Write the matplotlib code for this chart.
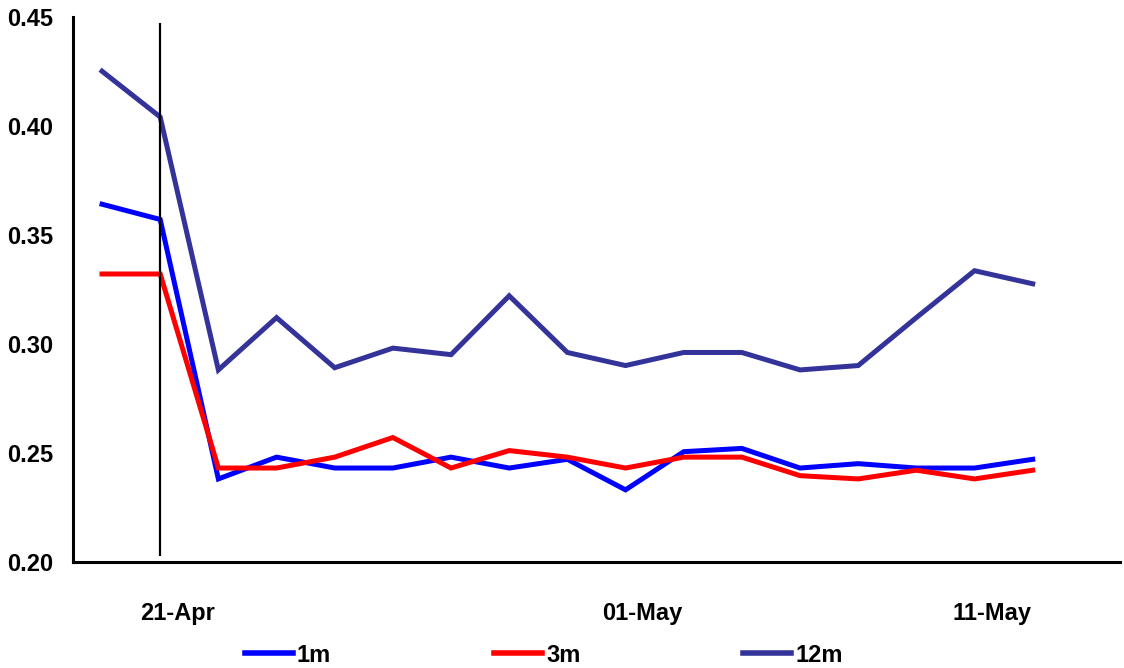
import matplotlib
matplotlib.use('Agg')
import matplotlib.pyplot as plt
import matplotlib.transforms as mtransforms

plt.rcParams['font.family'] = ['Liberation Sans', 'DejaVu Sans']

dates = ['20-Apr', '21-Apr', '22-Apr', '23-Apr', '24-Apr', '27-Apr', '28-Apr', '29-Apr', '30-Apr',
         '01-May', '04-May', '05-May', '06-May', '07-May', '08-May', '11-May', '12-May']
m1 = [0.364, 0.357, 0.238, 0.248, 0.243, 0.243, 0.248, 0.243, 0.247, 0.233, 0.2505, 0.252,
      0.243, 0.245, 0.243, 0.243, 0.247]
m3 = [0.332, 0.332, 0.243, 0.243, 0.248, 0.257, 0.243, 0.251, 0.248, 0.243, 0.248, 0.248,
      0.2395, 0.238, 0.242, 0.238, 0.242]
m12 = [0.425, 0.404, 0.288, 0.312, 0.289, 0.298, 0.295, 0.322, 0.296, 0.290, 0.296, 0.296,
       0.288, 0.290, 0.312, 0.3335, 0.3275]
shown_dates = ['21-Apr', '01-May', '11-May']
marker_date = '21-Apr'

fig = plt.figure(figsize=(11.24, 6.68), dpi=100)
ax = fig.add_axes([0.0649, 0.159, 0.9315, 0.816])

x = list(range(len(dates)))
ax.plot(x, m1, color='#0000FF', lw=3.6, label='1m', solid_joinstyle='miter')
ax.plot(x, m3, color='#FF0000', lw=3.6, label='3m', solid_joinstyle='miter')
ax.plot(x, m12, color='#333399', lw=3.6, label='12m', solid_joinstyle='miter')

# vertical marker line
ax.vlines(dates.index(marker_date), 0.2026, 0.447, color='black', lw=1.6)

ax.set_xlim(-0.5, 17.5)
ax.set_ylim(0.20, 0.45)
ax.set_yticks([0.20, 0.25, 0.30, 0.35, 0.40, 0.45])
ax.set_yticklabels(['%.2f' % v for v in ax.get_yticks()], fontsize=17, fontweight='bold')
ax.set_xticks([dates.index(d) for d in shown_dates])
ax.set_xticklabels(shown_dates, fontsize=17, fontweight='bold')
ax.tick_params(axis='y', length=0, pad=14)
ax.tick_params(axis='x', length=0, pad=29)

offset = mtransforms.ScaledTranslation(0.17, 0, fig.dpi_scale_trans)
for lab in ax.get_xticklabels():
    lab.set_transform(lab.get_transform() + offset)

for side in ['top', 'right']:
    ax.spines[side].set_visible(False)
for side in ['left', 'bottom']:
    ax.spines[side].set_linewidth(2.2)
    ax.spines[side].set_color('black')

leg = fig.legend(loc='center left', bbox_to_anchor=(245 / 1124, 1 - 655 / 668), ncol=3,
                 frameon=False, handlelength=2.03, handletextpad=0.17, columnspacing=6.9,
                 borderpad=0, borderaxespad=0, prop={'size': 17, 'weight': 'bold'})
for line in leg.get_lines():
    line.set_linewidth(4)

fig.savefig('out.png', dpi=100)
